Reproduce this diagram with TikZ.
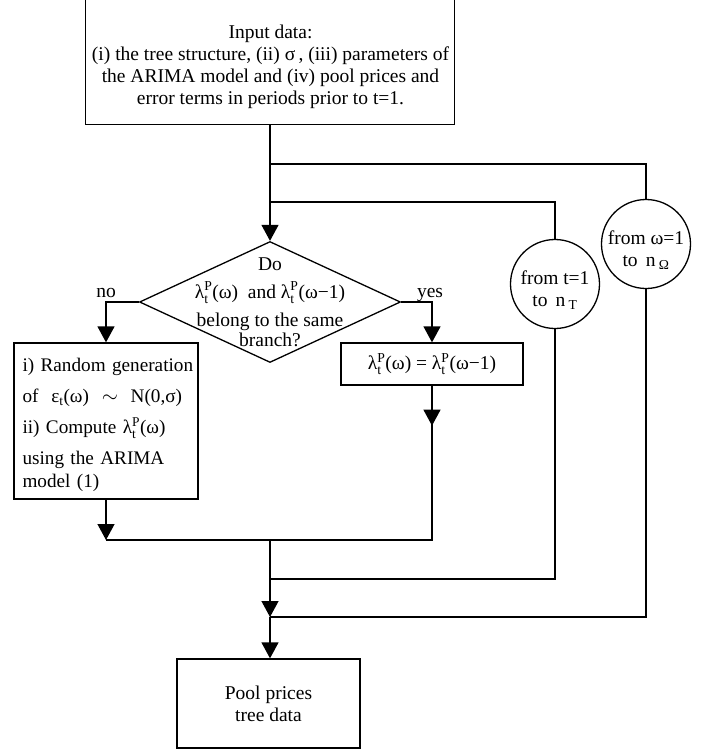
\documentclass[tikz,border=0pt]{standalone}
\usepackage{amsmath}
\usepackage{fontspec}
\setmainfont{Liberation Serif}
\usetikzlibrary{arrows.meta,shapes.geometric,positioning,calc}

\newcommand{\lamP}{λ$^{\text{P}}_{\text{t}}$}

\tikzset{
  flow/.style={line width=1.3pt},
  arr/.style={flow,-{Triangle[length=16pt,width=17pt]}},
  blockbox/.style={draw,line width=1.3pt,inner sep=0pt,align=center},
  decision/.style={draw,diamond,line width=1.3pt,inner sep=0pt,minimum width=261pt,minimum height=121pt},
  loopnode/.style={draw,circle,line width=1.3pt,inner sep=0pt,minimum size=89pt},
  answer/.style={above,text depth=0pt,inner sep=4pt},
}

\begin{document}
\begin{tikzpicture}[x=1pt,y=-1pt,font=\fontsize{19.5}{22}\selectfont]
	\useasboundingbox (0,0) rectangle (707,750);
	\clip (0,0) rectangle (707,750);
	%
	\node[blockbox,minimum width=369pt,minimum height=150pt,anchor=south] (input) at (270,125) {};
	\node[align=center] (inputtxt) at (270.5,67) {Input data:\\(i) the tree structure, (ii) σ\,, (iii) parameters of\\the ARIMA model and (iv) pool prices and\\error terms in periods prior to t=1.};
	\node[decision,label={[align=center]center:{Do\\[6pt]\lamP(ω)\ \ and \lamP(ω−1)\\[6pt]belong to the same\\[-2pt]branch?}}] (dec) at (270,302) {};
	\node[blockbox,minimum width=184pt,minimum height=156pt,label={[align=left,text width=171pt,inner sep=0pt,xshift=2pt,yshift=-4pt,font=\fontsize{19.2}{23}\selectfont]center:{i) Random generation\\[8pt]of \ ε$_{\text{t}}$(ω) \ $\sim$ \ N(0,σ)\\[8pt]ii) Compute \lamP(ω)\\[8pt]using the ARIMA\\model (1)}}] (gen) at (106,421) {};
	\node[blockbox,minimum width=182pt,minimum height=42pt] (same) at (432,364) {\lamP(ω) = \lamP(ω−1)};
	\node[loopnode,label={[align=center,yshift=-6pt]center:{from t=1\\to \,n\,\textsubscript{T}}}] (loopt) at (555,284) {};
	\node[loopnode,label={[align=center,yshift=-6pt]center:{from ω=1\\to \,n\,\textsubscript{Ω}}}] (loopw) at (646,244) {};
	\node[blockbox,minimum width=183pt,minimum height=89pt] (out) at (268.5,703.5) {Pool prices\\tree data};
	%
	\coordinate (jw) at (270,164);
	\coordinate (jt) at (270,202);
	\coordinate (jm) at (270,540);
	\coordinate (rt) at (270,579);
	\coordinate (rw) at (270,617);
	%
	\draw[flow] (input.south) -- (jw) -- (jt);
	\draw[arr] (jt) -- (dec.north);
	\draw[flow] (jw) -| (loopw.north);
	\draw[flow] (jt) -| (loopt.north);
	\draw[arr] (dec.west) -| node[answer,pos=0.5] {no} (gen.north);
	\draw[arr] (dec.east) -| node[answer,pos=0.5,xshift=-2pt] {yes} (same.north);
	\draw[arr] (same.south) -- ++(0,40);
	\draw[flow] (same.south) -- (same.south |- jm) -- (gen.south |- jm);
	\draw[arr] (gen.south) -- (gen.south |- jm);
	\draw[arr] (jm) -- (rw);
	\draw[arr] (rw) -- (rw |- out.north);
	\draw[flow] (loopt.south) |- (rt);
	\draw[flow] (loopw.south) |- (rw);
\end{tikzpicture}
\end{document}
